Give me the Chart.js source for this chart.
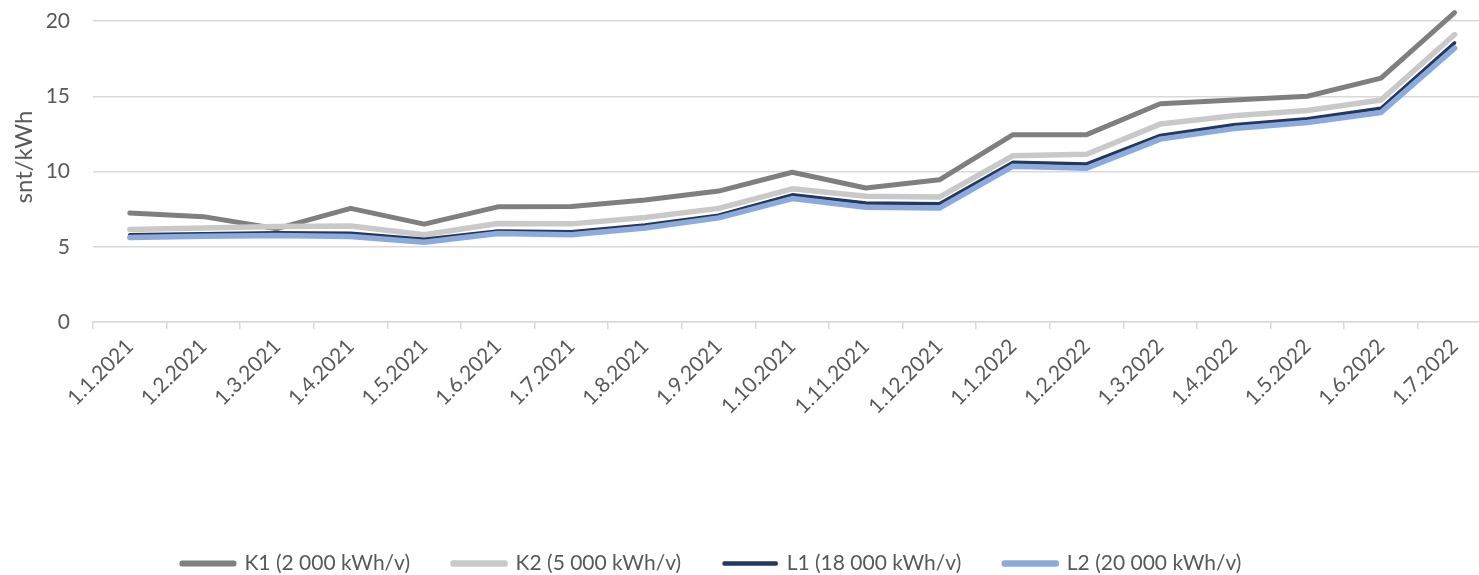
<!DOCTYPE html>
<html>
<head>
<meta charset="utf-8">
<script src="https://cdn.jsdelivr.net/npm/chart.js@4"></script>
<style>
    html, body { margin: 0; padding: 0; background: #fff; overflow: hidden; }
    #wrap { width: 1500px; height: 584px; }
</style>
</head>
<body>
<div id="wrap"><canvas id="price-chart" width="1500" height="584"></canvas></div>
<script>
// kuukaudet
var months = ['1.1.2021', '1.2.2021', '1.3.2021', '1.4.2021', '1.5.2021', '1.6.2021', '1.7.2021',
    '1.8.2021', '1.9.2021', '1.10.2021', '1.11.2021', '1.12.2021', '1.1.2022', '1.2.2022',
    '1.3.2022', '1.4.2022', '1.5.2022', '1.6.2022', '1.7.2022'];

// snt/kWh
var k1 = [7.25, 7.0, 6.2, 7.55, 6.5, 7.65, 7.67, 8.1, 8.7, 9.95, 8.9, 9.45, 12.45, 12.45, 14.5, 14.75, 15.0, 16.2, 20.55];
var k2 = [6.15, 6.25, 6.35, 6.38, 5.8, 6.55, 6.52, 6.95, 7.55, 8.85, 8.35, 8.3, 11.05, 11.15, 13.15, 13.7, 14.05, 14.75, 19.1];
var l1 = [5.8, 5.87, 5.93, 5.9, 5.5, 6.05, 6.0, 6.45, 7.1, 8.45, 7.9, 7.85, 10.62, 10.5, 12.4, 13.1, 13.5, 14.2, 18.55];
var l2 = [5.62, 5.7, 5.75, 5.68, 5.3, 5.88, 5.8, 6.25, 6.92, 8.2, 7.62, 7.57, 10.35, 10.22, 12.15, 12.85, 13.25, 13.92, 18.2];

var seriesNames = ['K1 (2 000 kWh/v)', 'K2 (5 000 kWh/v)', 'L1 (18 000 kWh/v)', 'L2 (20 000 kWh/v)'];
var yTicks = [0, 5, 10, 15, 20];
var yTitle = 'snt/kWh';

var textColor = '#595959';
var gridColor = '#d9d9d9';
var fontFamily = 'Lato, "Open Sans", sans-serif';

function lineSet(label, data, color, width, order) {
    return {
        label: label,
        data: data,
        borderColor: color,
        backgroundColor: color,
        borderWidth: width,
        pointRadius: 0,
        tension: 0,
        borderCapStyle: 'round',
        borderJoinStyle: 'round',
        clip: false,
        order: order
    };
}

// y-akselin otsikko ja selitteen siirto
var extrasPlugin = {
    id: 'extras',
    afterLayout: function(chart) {
        var lg = chart.legend;
        lg.left -= 34;
        lg.right -= 34;
    },
    afterDraw: function(chart) {
        var ctx = chart.ctx;
        ctx.save();
        ctx.translate(24, 157);
        ctx.rotate(-Math.PI / 2);
        ctx.font = '24px ' + fontFamily;
        ctx.fillStyle = textColor;
        ctx.textAlign = 'center';
        ctx.textBaseline = 'middle';
        ctx.fillText(yTitle, 0, 0);
        ctx.restore();
    }
};

var ctx = document.getElementById('price-chart').getContext('2d');
new Chart(ctx, {
    type: 'line',
    data: {
        labels: months,
        datasets: [
            lineSet(seriesNames[0], k1, '#7f7f7f', 5, 4),
            lineSet(seriesNames[1], k2, '#c9c9c9', 5.5, 3),
            lineSet(seriesNames[2], l1, '#1f3864', 3.5, 2),
            lineSet(seriesNames[3], l2, '#8eaadb', 5.5, 1)
        ]
    },
    options: {
        responsive: false,
        animation: false,
        devicePixelRatio: 1,
        layout: {
            padding: { top: 21, right: 8.6, bottom: 0, left: 0 }
        },
        plugins: {
            legend: {
                position: 'bottom',
                labels: {
                    color: textColor,
                    font: { family: fontFamily, size: 21 },
                    boxWidth: 52,
                    boxHeight: 1,
                    padding: 43,
                    sort: function(a, b) { return a.datasetIndex - b.datasetIndex; }
                }
            },
            tooltip: { enabled: false }
        },
        scales: {
            x: {
                offset: true,
                afterFit: function(scale) { scale.height = 188; },
                grid: {
                    offset: true,
                    display: true,
                    drawOnChartArea: false,
                    drawTicks: true,
                    tickLength: 7,
                    color: gridColor,
                    lineWidth: 1.5
                },
                border: { display: true, color: gridColor, width: 1.5 },
                ticks: {
                    autoSkip: false,
                    minRotation: 45,
                    maxRotation: 45,
                    padding: 5,
                    color: textColor,
                    font: { family: fontFamily, size: 21 }
                }
            },
            y: {
                min: yTicks[0],
                max: yTicks[yTicks.length - 1],
                afterFit: function(scale) {
                    scale.width = 93;
                    scale.paddingTop = 10;
                    scale.paddingBottom = 10;
                },
                afterBuildTicks: function(scale) {
                    scale.ticks = yTicks.map(function(v) { return { value: v }; });
                },
                grid: {
                    color: gridColor,
                    lineWidth: 1.5,
                    drawTicks: false
                },
                border: { display: false },
                ticks: {
                    padding: 23,
                    color: textColor,
                    font: { family: fontFamily, size: 21 }
                }
            }
        }
    },
    plugins: [extrasPlugin]
});
</script>
</body>
</html>
